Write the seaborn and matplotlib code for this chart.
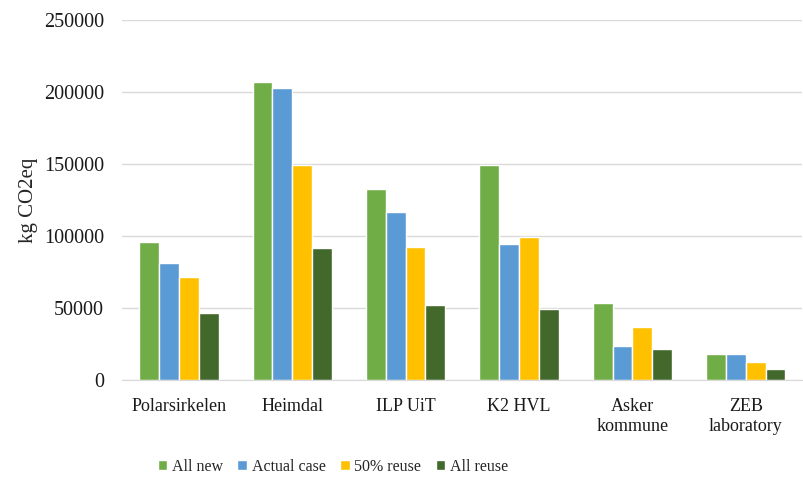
import pandas as pd
import matplotlib.pyplot as plt
import seaborn as sns

# values (kg CO2eq)
buildings = ['Polarsirkelen', 'Heimdal', 'ILP UiT', 'K2 HVL', 'Asker\nkommune', 'ZEB\nlaboratory']
scenarios = ['All new', 'Actual case', '50% reuse', 'All reuse']
all_new = [95600, 207000, 132400, 149300, 53500, 17800]
actual_case = [81200, 202500, 116900, 94700, 23400, 17800]
reuse_50 = [71300, 149300, 92400, 99300, 36800, 12500]
all_reuse = [46700, 91400, 52300, 49100, 21300, 7900]

colors = ['#70AD47', '#5B9BD5', '#FFC000', '#43682B']

rows = []
for name, vals in zip(scenarios, [all_new, actual_case, reuse_50, all_reuse]):
    for b, v in zip(buildings, vals):
        rows.append({'building': b, 'scenario': name, 'value': v})
df = pd.DataFrame(rows)

sns.set_style('white')
plt.rcParams['font.family'] = ['Liberation Serif', 'DejaVu Serif']

fig = plt.figure(figsize=(8.04, 4.82), dpi=100)
ax = fig.add_axes([0.152, 0.2116, 0.846, 0.7469])

sns.barplot(
    data=df,
    x='building',
    y='value',
    hue='scenario',
    hue_order=scenarios,
    order=buildings,
    palette=colors,
    width=0.7,
    edgecolor='white',
    linewidth=1,
    saturation=1,
    ax=ax,
)

ax.set_ylim(0, 250000)
ax.set_yticks(range(0, 250001, 50000))
ax.yaxis.grid(True, color='#D9D9D9', linewidth=1)
ax.set_axisbelow(True)
for s in ['top', 'right', 'left']:
    ax.spines[s].set_visible(False)
ax.spines['bottom'].set_color('#D9D9D9')
ax.tick_params(axis='both', length=0, colors='#1a1a1a')
ax.tick_params(axis='y', pad=13, labelsize=14.5)
ax.tick_params(axis='x', pad=13, labelsize=13)
ax.set_xlabel('')
ax.set_ylabel('kg CO2eq', fontsize=15, labelpad=4)

sns.move_legend(
    ax, 'center', bbox_to_anchor=(0.414, 0.031), bbox_transform=fig.transFigure,
    ncol=4, frameon=False, title=None, fontsize=11.5, handlelength=0.6,
    handleheight=0.6, handletextpad=0.3, columnspacing=0.9,
)

fig.savefig('out.png', dpi=100)
